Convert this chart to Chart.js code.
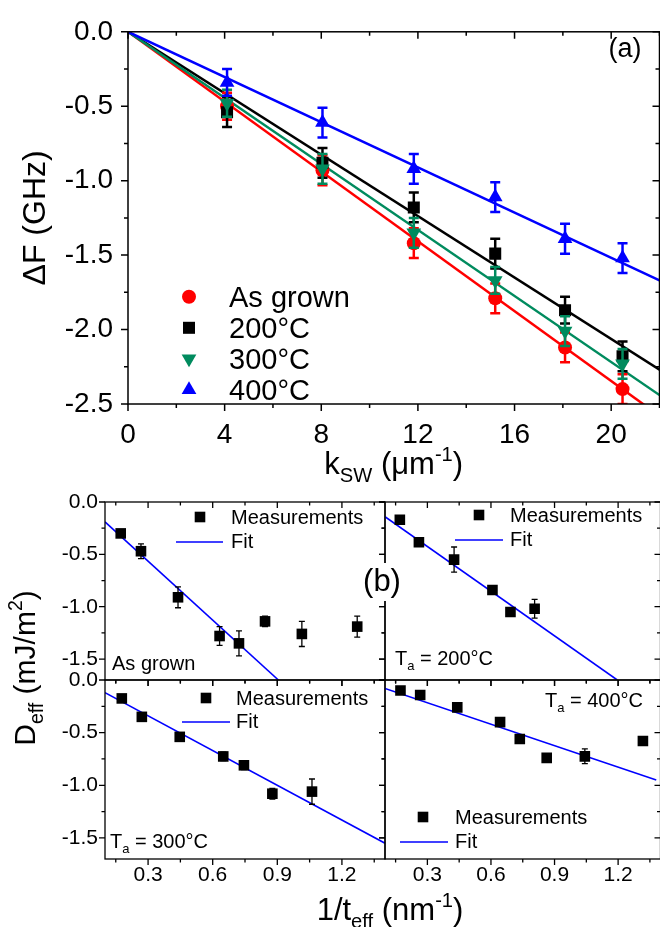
<!DOCTYPE html>
<html>
<head>
<meta charset="utf-8">
<script src="https://cdn.jsdelivr.net/npm/chart.js@4/dist/chart.umd.min.js"></script>
<style>
  html, body { margin: 0; padding: 0; background: #fff; overflow: hidden; }
  #fig { position: relative; width: 660px; height: 927px; overflow: hidden; background: #fff; }
  #fig canvas { position: absolute; left: 0; }
</style>
</head>
<body>
<div id="fig">
  <canvas id="shift" width="668" height="490" style="top:0"></canvas>
  <canvas id="dmiAsGrown" width="668" height="457" style="top:470px"></canvas>
  <canvas id="dmi200" width="668" height="457" style="top:470px"></canvas>
  <canvas id="dmi300" width="668" height="457" style="top:470px"></canvas>
  <canvas id="dmi400" width="668" height="457" style="top:470px"></canvas>
</div>
<script>
const FONT = 'Arial, "Liberation Sans", sans-serif';
Chart.defaults.font.family = FONT;
Chart.defaults.color = '#000';

// (a) frequency shift vs spin-wave wave vector
const kSW = [4.1, 8.05, 11.83, 15.2, 18.09, 20.47];
const dfAsGrown = [-0.50, -0.93, -1.42, -1.79, -2.12, -2.40];
const df200 = [-0.54, -0.88, -1.18, -1.49, -1.87, -2.18];
const df300 = [-0.48, -0.92, -1.35, -1.67, -2.01, -2.23];
const df400 = [-0.34, -0.61, -0.92, -1.11, -1.39, -1.52];
const errAsGrown = [0.09, 0.10, 0.10, 0.10, 0.10, 0.10];
const err200 = [0.10, 0.10, 0.10, 0.10, 0.09, 0.10];
const err300 = [0.09, 0.10, 0.10, 0.09, 0.10, 0.10];
const err400 = [0.09, 0.10, 0.10, 0.10, 0.10, 0.10];
// linear fits through the origin
const fitK = [0, 22];
const fitAsGrown = [0, -2.58];
const fit200 = [0, -2.27];
const fit300 = [0, -2.44];
const fit400 = [0, -1.67];
const kTicks = [0, 4, 8, 12, 16, 20];
const dfTicks = [0, -0.5, -1.0, -1.5, -2.0, -2.5];

// (b) effective DMI constant vs inverse effective thickness
const invTAsGrown = [0.173, 0.267, 0.439, 0.632, 0.722, 0.843, 1.014, 1.271];
const dAsGrown = [-0.30, -0.47, -0.91, -1.28, -1.35, -1.14, -1.26, -1.19];
const dErrAsGrown = [0, 0.07, 0.10, 0.09, 0.12, 0.05, 0.12, 0.10];
const dFitXAsGrown = [0.1, 0.905];
const dFitYAsGrown = [-0.19, -1.70];

const invT200 = [0.170, 0.260, 0.426, 0.607, 0.692, 0.806];
const d200 = [-0.17, -0.385, -0.55, -0.84, -1.05, -1.02];
const dErr200 = [0, 0.03, 0.12, 0, 0.03, 0.09];
const dFitX200 = [0.1, 1.196];
const dFitY200 = [-0.14, -1.70];

const invT300 = [0.178, 0.271, 0.447, 0.649, 0.745, 0.877, 1.061];
const d300 = [-0.175, -0.35, -0.54, -0.726, -0.81, -1.08, -1.06];
const dErr300 = [0, 0, 0, 0.04, 0.04, 0.05, 0.12];
const dFitX300 = [0.1, 1.4];
const dFitY300 = [-0.12, -1.55];

const invT400 = [0.173, 0.266, 0.441, 0.643, 0.736, 0.863, 1.043, 1.317];
const d400 = [-0.10, -0.143, -0.26, -0.40, -0.56, -0.74, -0.725, -0.58];
const dErr400 = [0, 0, 0, 0, 0, 0, 0.07, 0];
const dFitX400 = [0.1, 1.38];
const dFitY400 = [-0.08, -0.95];

const invTTicks = [0.3, 0.6, 0.9, 1.2];
const dTicks = [0, -0.5, -1.0, -1.5];

const pts = (xs, ys) => xs.map((v, i) => ({ x: v, y: ys[i] }));

// text with sub/superscript runs: 'txt' or ['txt', -1 | 1]
function richText(ctx, parts, x, y, size, align, angle) {
  ctx.save();
  ctx.translate(x, y);
  if (angle) ctx.rotate(angle);
  const runs = parts.map(p => {
    const [text, pos] = Array.isArray(p) ? p : [p, 0];
    const fs = pos ? size * 0.65 : size;
    ctx.font = fs + 'px ' + FONT;
    return { text, pos, fs, w: ctx.measureText(text).width };
  });
  const total = runs.reduce((s, r) => s + r.w, 0);
  let cx = align === 'center' ? -total / 2 : align === 'right' ? -total : 0;
  ctx.fillStyle = '#000';
  ctx.textAlign = 'left';
  ctx.textBaseline = 'alphabetic';
  runs.forEach(r => {
    ctx.font = r.fs + 'px ' + FONT;
    const dy = r.pos < 0 ? size * 0.25 : r.pos > 0 ? -size * 0.42 : 0;
    ctx.fillText(r.text, cx, dy);
    cx += r.w;
  });
  ctx.restore();
}

function marker(ctx, style, radius, rotation, color, x, y) {
  ctx.save();
  ctx.fillStyle = color;
  ctx.strokeStyle = color;
  Chart.helpers.drawPoint(ctx, { pointStyle: style, radius, rotation, borderWidth: 0 }, x, y);
  ctx.restore();
}

// major ticks come from the scale, minor ones sit half way between
function tickMarks(scale) {
  const major = scale.ticks.map(t => t.value);
  const step = major[1] - major[0];
  const lo = Math.min(scale.min, scale.max) - 1e-9, hi = Math.max(scale.min, scale.max) + 1e-9;
  const out = major.map(v => [v, true]);
  for (let k = -1; k < major.length; k++) {
    const v = major[0] + (k + 0.5) * step;
    if (v >= lo && v <= hi) out.push([v, false]);
  }
  return out;
}

// box around the plot: outward ticks left/bottom, inward ticks top/right
function framePlugin(lw, major, minor) {
  return {
    id: 'frame',
    afterDraw(chart) {
      const { ctx, chartArea: a, scales: { x, y } } = chart;
      ctx.save();
      ctx.strokeStyle = '#000';
      ctx.lineWidth = lw;
      ctx.strokeRect(a.left, a.top, a.right - a.left, a.bottom - a.top);
      ctx.beginPath();
      tickMarks(x).forEach(([v, isMajor]) => {
        const px = x.getPixelForValue(v), L = isMajor ? major : minor;
        ctx.moveTo(px, a.bottom); ctx.lineTo(px, a.bottom + L);
        ctx.moveTo(px, a.top); ctx.lineTo(px, a.top + L);
      });
      tickMarks(y).forEach(([v, isMajor]) => {
        const py = y.getPixelForValue(v), L = isMajor ? major : minor;
        ctx.moveTo(a.left - L, py); ctx.lineTo(a.left, py);
        ctx.moveTo(a.right - L, py); ctx.lineTo(a.right, py);
      });
      ctx.stroke();
      ctx.restore();
    }
  };
}

const errorBars = {
  id: 'errorBars',
  afterDatasetDraw(chart, args) {
    const ds = chart.data.datasets[args.index];
    if (!ds.errors) return;
    const { ctx, chartArea: a, scales: { x, y } } = chart;
    ctx.save();
    ctx.beginPath();
    ctx.rect(a.left, a.top, a.right - a.left, a.bottom - a.top);
    ctx.clip();
    ctx.strokeStyle = ds.borderColor;
    ctx.lineWidth = ds.errorWidth;
    ctx.beginPath();
    ds.data.forEach((p, i) => {
      const e = ds.errors[i];
      if (!e) return;
      const px = x.getPixelForValue(p.x);
      const hi = y.getPixelForValue(p.y + e), lo = y.getPixelForValue(p.y - e);
      const c = ds.capSize;
      ctx.moveTo(px, hi); ctx.lineTo(px, lo);
      ctx.moveTo(px - c, hi); ctx.lineTo(px + c, hi);
      ctx.moveTo(px - c, lo); ctx.lineTo(px + c, lo);
    });
    ctx.stroke();
    ctx.restore();
  }
};

function setTicks(values) {
  return scale => { scale.ticks = values.map(v => ({ value: v })); };
}

// ---------- (a) ----------
const shiftSeries = [
  { label: '400°C', y: df400, err: err400, fit: fit400, color: '#0000FF', style: 'triangle', rot: 0, r: 8.5 },
  { label: '300°C', y: df300, err: err300, fit: fit300, color: '#008B5E', style: 'triangle', rot: 180, r: 8.5 },
  { label: '200°C', y: df200, err: err200, fit: fit200, color: '#000000', style: 'rect', rot: 0, r: 8.5 },
  { label: 'As grown', y: dfAsGrown, err: errAsGrown, fit: fitAsGrown, color: '#FF0000', style: 'circle', rot: 0, r: 7 }
];

const shiftText = {
  id: 'shiftText',
  afterDraw(chart) {
    const { ctx, chartArea: a } = chart;
    const rows = shiftSeries.slice().reverse();
    rows.forEach((s, i) => {
      const ry = a.top + 265 + 31 * i;
      marker(ctx, s.style, s.r, s.rot, s.color, a.left + 61, ry);
      ctx.fillStyle = '#000';
      ctx.font = '29px ' + FONT;
      ctx.textAlign = 'left';
      ctx.textBaseline = 'alphabetic';
      ctx.fillText(s.label, a.left + 101, ry + 10);
    });
    ctx.font = '27px ' + FONT;
    ctx.textAlign = 'right';
    ctx.fillText('(a)', a.right - 18, 57);
    richText(ctx, ['ΔF (GHz)'], 45, (a.top + a.bottom) / 2, 32, 'center', -Math.PI / 2);
    richText(ctx, ['k', ['SW', -1], ' (μm', ['-1', 1], ')'], (a.left + a.right) / 2, 474, 31, 'center');
  }
};

new Chart(document.getElementById('shift'), {
  type: 'scatter',
  data: {
    datasets: [
      ...shiftSeries.map(s => ({
        label: s.label,
        data: pts(kSW, s.y),
        errors: s.err, errorWidth: 2.5, capSize: 5,
        borderColor: s.color, backgroundColor: s.color,
        pointStyle: s.style, pointRotation: s.rot, pointRadius: s.r, pointBorderWidth: 0
      })),
      ...shiftSeries.map(s => ({
        label: s.label + ' fit',
        data: pts(fitK, s.fit),
        showLine: true, borderColor: s.color, borderWidth: 2.5, pointRadius: 0
      }))
    ]
  },
  options: {
    responsive: false, animation: false, events: [],
    layout: { padding: { left: 0, top: 19, right: 7, bottom: 0 } },
    plugins: { legend: { display: false }, tooltip: { enabled: false } },
    scales: {
      x: {
        type: 'linear', min: 0, max: 22,
        afterBuildTicks: setTicks(kTicks),
        afterFit: s => { s.height = 86; },
        grid: { display: false, drawTicks: false }, border: { display: false },
        ticks: { autoSkip: false, maxRotation: 0, padding: 14, font: { size: 28 }, color: '#000', callback: v => String(v) }
      },
      y: {
        type: 'linear', min: -2.5, max: 0,
        afterBuildTicks: setTicks(dfTicks),
        afterFit: s => { s.width = 128; },
        grid: { display: false, drawTicks: false }, border: { display: false },
        ticks: { autoSkip: false, padding: 15, font: { size: 28 }, color: '#000', callback: v => v.toFixed(1) }
      }
    }
  },
  plugins: [framePlugin(1.5, 7, 4), errorBars, shiftText]
});

// ---------- (b) ----------
const TOP = 470, H = 457, W = 668;

function panelText(cfg) {
  return {
    id: 'panelText',
    afterDraw(chart) {
      const { ctx, chartArea: a } = chart;
      const lg = cfg.legend;
      marker(ctx, 'rect', 7.5, 0, '#000', a.left + lg.sx, a.top + lg.sy);
      ctx.fillStyle = '#000';
      ctx.font = '20px ' + FONT;
      ctx.textAlign = 'left';
      ctx.textBaseline = 'alphabetic';
      ctx.fillText('Measurements', a.left + lg.tx, a.top + lg.sy + 7);
      ctx.save();
      ctx.strokeStyle = '#0000FF';
      ctx.lineWidth = 1.6;
      ctx.beginPath();
      ctx.moveTo(a.left + lg.lx0, a.top + lg.ly);
      ctx.lineTo(a.left + lg.lx1, a.top + lg.ly);
      ctx.stroke();
      ctx.restore();
      ctx.fillText('Fit', a.left + lg.tx, a.top + lg.ly + 6);
      const n = cfg.note;
      richText(ctx, n.parts, a.left + n.x, a.top + n.y, 20, n.align || 'left');
      if (cfg.extra) cfg.extra(ctx, chart);
    }
  };
}

function dmiPanel(id, cfg) {
  const a = cfg.area;
  const xAxisH = cfg.showX ? H - (a.bottom - TOP) : 0;
  new Chart(document.getElementById(id), {
    type: 'scatter',
    data: {
      datasets: [
        {
          label: 'Measurements',
          data: pts(cfg.x, cfg.y),
          errors: cfg.err, errorWidth: 1.3, capSize: 3,
          borderColor: '#000', backgroundColor: '#000',
          pointStyle: 'rect', pointRadius: 7.5, pointBorderWidth: 0
        },
        {
          label: 'Fit',
          data: pts(cfg.fitX, cfg.fitY),
          showLine: true, borderColor: '#0000FF', borderWidth: 1.6, pointRadius: 0
        }
      ]
    },
    options: {
      responsive: false, animation: false, events: [],
      layout: {
        padding: {
          left: cfg.showY ? 0 : a.left,
          top: a.top - TOP,
          right: W - a.right,
          bottom: cfg.showX ? 0 : H - (a.bottom - TOP)
        }
      },
      plugins: { legend: { display: false }, tooltip: { enabled: false } },
      scales: {
        x: {
          type: 'linear', min: 0.1, max: 1.4,
          afterBuildTicks: setTicks(invTTicks),
          afterFit: s => { s.height = xAxisH; },
          grid: { display: false, drawTicks: false }, border: { display: false },
          ticks: { display: cfg.showX, autoSkip: false, maxRotation: 0, padding: 4, font: { size: 21 }, color: '#000', callback: v => v.toFixed(1) }
        },
        y: {
          type: 'linear', min: -1.7, max: 0,
          afterBuildTicks: setTicks(dTicks),
          afterFit: s => { s.width = cfg.showY ? a.left : 0; },
          grid: { display: false, drawTicks: false }, border: { display: false },
          ticks: { display: cfg.showY, autoSkip: false, padding: 7, font: { size: 21 }, color: '#000', callback: v => v.toFixed(1) }
        }
      }
    },
    plugins: [framePlugin(1.3, 6, 3.5), errorBars, panelText(cfg)]
  });
}

dmiPanel('dmiAsGrown', {
  x: invTAsGrown, y: dAsGrown, err: dErrAsGrown, fitX: dFitXAsGrown, fitY: dFitYAsGrown,
  area: { left: 105, top: 502, right: 385, bottom: 680 }, showX: false, showY: true,
  legend: { sx: 95, sy: 15, tx: 126, lx0: 71, lx1: 118, ly: 40 },
  note: { parts: ['As grown'], x: 7, y: 168 }
});

dmiPanel('dmi200', {
  x: invT200, y: d200, err: dErr200, fitX: dFitX200, fitY: dFitY200,
  area: { left: 385, top: 502, right: 665, bottom: 680 }, showX: false, showY: false,
  legend: { sx: 94, sy: 13, tx: 125, lx0: 70, lx1: 118, ly: 38 },
  note: { parts: ['T', ['a', -1], ' = 200°C'], x: 10, y: 163 }
});

dmiPanel('dmi300', {
  x: invT300, y: d300, err: dErr300, fitX: dFitX300, fitY: dFitY300,
  area: { left: 105, top: 680, right: 385, bottom: 859 }, showX: true, showY: true,
  legend: { sx: 101, sy: 18, tx: 131, lx0: 77, lx1: 125, ly: 42 },
  note: { parts: ['T', ['a', -1], ' = 300°C'], x: 5, y: 168 }
});

dmiPanel('dmi400', {
  x: invT400, y: d400, err: dErr400, fitX: dFitX400, fitY: dFitY400,
  area: { left: 385, top: 680, right: 665, bottom: 859 }, showX: true, showY: false,
  legend: { sx: 38, sy: 137, tx: 70, lx0: 15, lx1: 63, ly: 162 },
  note: { parts: ['T', ['a', -1], ' = 400°C'], x: 160, y: 27 },
  // shared axis titles and the panel tag for (b)
  extra(ctx) {
    ctx.fillStyle = '#fff';
    ctx.fillRect(361, 563 - TOP, 43, 38);
    ctx.fillStyle = '#000';
    ctx.font = '31px ' + FONT;
    ctx.textAlign = 'center';
    ctx.textBaseline = 'alphabetic';
    ctx.fillText('(b)', 382, 591 - TOP);
    richText(ctx, ['D', ['eff', -1], ' (mJ/m', ['2', 1], ')'], 35, 668 - TOP, 30, 'center', -Math.PI / 2);
    richText(ctx, ['1/t', ['eff', -1], ' (nm', ['-1', 1], ')'], 390, 920 - TOP, 31, 'center');
  }
});
</script>
</body>
</html>
